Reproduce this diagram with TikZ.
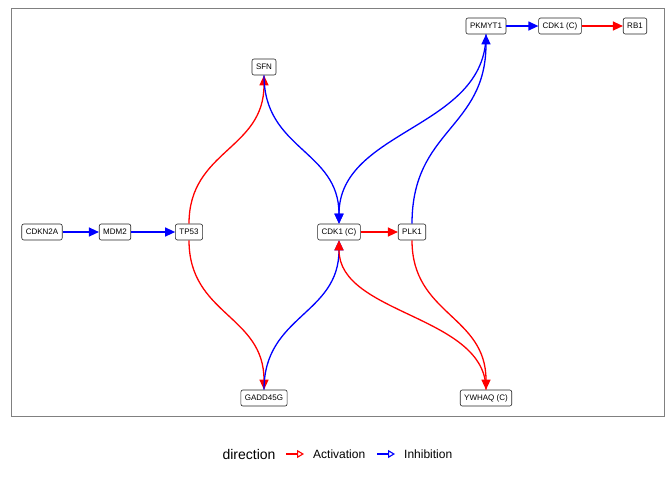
\documentclass[tikz,border=0pt]{standalone}
\usepackage{fontspec}
\setmainfont{Liberation Sans}
\usepackage{tikz}
\usetikzlibrary{positioning, calc, arrows.meta}

\begin{document}
\begin{tikzpicture}[
    x=1pt, y=-1pt,
    gene/.style={draw=black!85, fill=white, rounded corners=2pt, line width=0.6pt,
                 inner xsep=4pt, inner ysep=0pt, minimum height=16pt, font=\fontsize{8}{9}\selectfont},
    act/.style={red, line width=1.3pt, -{Triangle[length=10pt,width=9pt]}},
    inh/.style={blue, line width=1.3pt, -{Triangle[length=10pt,width=9pt]}},
    keyact/.style={red, line width=1.1pt, -{Triangle[open,length=7pt,width=8pt]}},
    keyinh/.style={blue, line width=1.1pt, -{Triangle[open,length=7pt,width=8pt]}},
  ]
    \useasboundingbox (0,0) rectangle (672,480);
    % panel frame
    \draw[black!50, line width=0.7pt] (11,8) rectangle (664,416);
    % genes
    \node[gene] (cdkn2a) at (42,232) {CDKN2A};
    \node[gene] (mdm2) at (115,232) {MDM2};
    \node[gene] (tp53) at (189,232) {TP53};
    \node[gene] (sfn) at (264,67) {SFN};
    \node[gene] (gadd) at (264,398) {GADD45G};
    \node[gene] (cdk1) at (339,232) {CDK1 (C)};
    \node[gene] (plk1) at (412,232) {PLK1};
    \node[gene] (pkmyt1) at (486,26) {PKMYT1};
    \node[gene] (cdk1b) at (560,26) {CDK1 (C)};
    \node[gene] (rb1) at (635,26) {RB1};
    \node[gene] (ywhaq) at (486,398) {YWHAQ (C)};
    % straight edges
    \draw[inh] (cdkn2a) -- (mdm2);
    \draw[inh] (mdm2) -- (tp53);
    \draw[act] (cdk1) -- (plk1);
    \draw[inh] (pkmyt1) -- (cdk1b);
    \draw[act] (cdk1b) -- (rb1);
    % curved edges
    \draw[act] (tp53.north) .. controls (189,150) and (264,150) .. (sfn.south);
    \draw[act] (tp53.south) .. controls (189,315) and (264,315) .. (gadd.north);
    \draw[inh] (sfn.south) .. controls (264,150) and (339,150) .. (cdk1.north);
    \draw[inh] (gadd.north) .. controls (264,315) and (339,315) .. (cdk1.south);
    \draw[inh, {Triangle[length=10pt,width=9pt]}-] (cdk1.north) .. controls (339,129) and (486,129) .. (pkmyt1.south);
    \draw[inh] (plk1.north) .. controls (412,129) and (486,129) .. (pkmyt1.south);
    \draw[act] (plk1.south) .. controls (412,315) and (486,315) .. (ywhaq.north);
    \draw[act, {Triangle[length=10pt,width=9pt]}-] (cdk1.south) .. controls (339,315) and (486,315) .. (ywhaq.north);
    % legend
    \node[font=\fontsize{14}{16}\selectfont] (dirlab) at (249,454) {direction};
    \coordinate (actA) at (286,454);
    \coordinate (actB) at (304,454);
    \draw[keyact] (actA) -- (actB);
    \node[right, inner sep=0pt, font=\fontsize{12}{14}\selectfont] (actlab) at (313,454) {Activation};
    \coordinate (inhA) at (377,454);
    \coordinate (inhB) at (395,454);
    \draw[keyinh] (inhA) -- (inhB);
    \node[right, inner sep=0pt, font=\fontsize{12}{14}\selectfont] (inhlab) at (404,454) {Inhibition};
  \end{tikzpicture}
\end{document}
